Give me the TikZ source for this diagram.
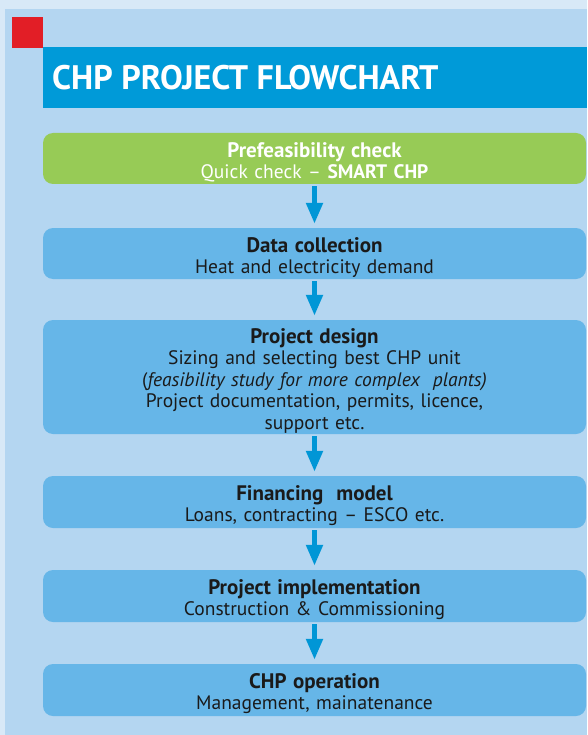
\documentclass[tikz,border=0pt]{standalone}
\usepackage{fontspec}
\setmainfont{PT Sans}
\usetikzlibrary{arrows.meta}
\definecolor{outerbg}{HTML}{D8E9F7}
\definecolor{panelbg}{HTML}{B4D6F1}
\definecolor{redsq}{HTML}{E21E26}
\definecolor{headerbg}{HTML}{009AD8}
\definecolor{greenbox}{HTML}{97CB56}
\definecolor{bluebox}{HTML}{66B6E8}
\definecolor{arrowc}{HTML}{0096D6}
\definecolor{textc}{HTML}{1A1A1A}
\newcommand{\hdtxt}[1]{{\fontsize{21}{22}\selectfont\bfseries\rule{0pt}{22.5pt}#1}}
\tikzset{
  stepbox/.style={rounded corners=10pt, fill=bluebox, minimum width=543pt, text width=530pt, align=center, inner sep=0pt, text=textc, font=\fontsize{19.5}{21.5}\selectfont},
  flowarrow/.style={draw=arrowc, line width=5pt, -{Triangle[width=16pt,length=21pt]}}
}
\begin{document}
\begin{tikzpicture}[x=1pt,y=-1pt]
\useasboundingbox (0,0) rectangle (587,735);
\fill[outerbg] (0,0) rectangle (587,735);
\fill[panelbg] (5,9) rectangle (587,735);
\fill[redsq] (12,17) rectangle (43,48);
\fill[headerbg] (43,47) rectangle (587,108);
\node[anchor=base west, text=white, inner sep=0pt, font=\bfseries\fontsize{34}{34}\selectfont] (title) at (52,90) {CHP PROJECT FLOWCHART};

\node[stepbox, fill=greenbox, text=white, minimum height=51pt] (pre) at (314.5,158.5) {\hdtxt{Prefeasibility check}\\Quick check -- \textbf{SMART CHP}};
\node[stepbox, minimum height=51pt] (data) at (314.5,253.5) {\hdtxt{Data collection}\\Heat and electricity demand};
\node[stepbox, minimum height=114pt] (design) at (314.5,377) {\hdtxt{Project design}\\Sizing and selecting best CHP unit\\(\textit{feasibility study for more complex\ \ plants)}\\Project documentation, permits, licence,\\support etc.};
\node[stepbox, minimum height=52pt] (fin) at (314.5,502) {\hdtxt{Financing\ \ model}\\Loans, contracting -- ESCO etc.};
\node[stepbox, minimum height=52pt] (impl) at (314.5,596) {\hdtxt{Project implementation}\\Construction \& Commissioning};
\node[stepbox, minimum height=52pt] (op) at (314.5,690) {\hdtxt{CHP operation}\\Management, mainatenance};

\draw[flowarrow] ([yshift=-2pt]pre.south) -- ([yshift=4pt]data.north);
\draw[flowarrow] ([yshift=-2pt]data.south) -- ([yshift=4pt]design.north);
\draw[flowarrow] ([yshift=-2pt]design.south) -- ([yshift=4pt]fin.north);
\draw[flowarrow] ([yshift=-2pt]fin.south) -- ([yshift=4pt]impl.north);
\draw[flowarrow] ([yshift=-2pt]impl.south) -- ([yshift=4pt]op.north);
\end{tikzpicture}
\end{document}
